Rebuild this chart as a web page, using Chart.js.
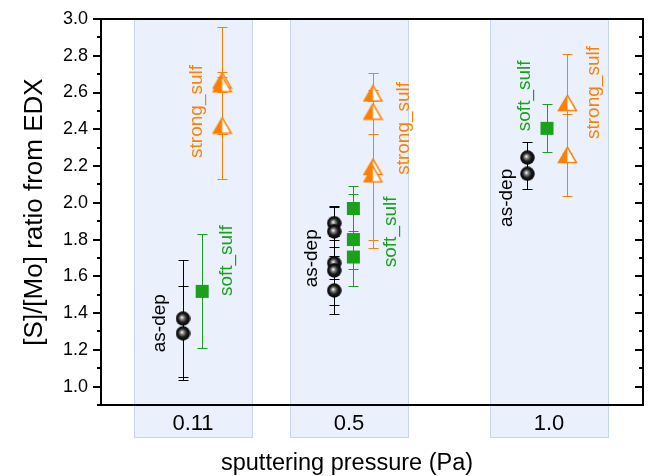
<!DOCTYPE html>
<html>
<head>
<meta charset="utf-8">
<script src="https://cdn.jsdelivr.net/npm/chart.js@4.4.0/dist/chart.umd.min.js"></script>
<style>
  html, body { margin: 0; padding: 0; background: #fff; }
  #wrap { width: 653px; height: 476px; }
</style>
</head>
<body>
<div id="wrap"><canvas id="chart" width="653" height="476"></canvas></div>
<script>
// Sputtering pressures (Pa) and their axis labels
const pressures = [0.11, 0.5, 1.0];
const pressureLabels = ['0.11', '0.5', '1.0'];

// Major y ticks and their labels
const yTickValues = [1.0, 1.2, 1.4, 1.6, 1.8, 2.0, 2.2, 2.4, 2.6, 2.8, 3.0];
const yTickLabels = ['1.0', '1.2', '1.4', '1.6', '1.8', '2.0', '2.2', '2.4', '2.6', '2.8', '3.0'];

const xTitle = 'sputtering pressure (Pa)';
const yTitle = '[S]/[Mo] ratio from EDX';

// as-deposited films
const asDepX   = [0.085, 0.085, 0.463, 0.463, 0.463, 0.463, 0.463, 0.946, 0.946];
const asDepY   = [1.370, 1.290, 1.889, 1.844, 1.672, 1.632, 1.523, 2.246, 2.158];
const asDepErr = [0.320, 0.255, 0.090, 0.136, 0.085, 0.186, 0.126, 0.085, 0.085];

// soft sulfurization
const softX   = [0.133, 0.511, 0.511, 0.511, 0.995];
const softY   = [1.518, 1.969, 1.800, 1.705, 2.405];
const softErr = [0.310, 0.120, 0.250, 0.065, 0.130];

// strong sulfurization
const strongX   = [0.183, 0.183, 0.183, 0.560, 0.560, 0.560, 0.560, 1.046, 1.046];
const strongY   = [2.665, 2.645, 2.420, 2.595, 2.496, 2.195, 2.155, 2.542, 2.260];
const strongErr = [0.290, 0.040, 0.290, 0.110, 0.120, 0.400, 0.400, 0.270, 0.225];

const BLACK = '#000000';
const GREEN = '#1ba01b';
const ORANGE = '#ff8000';
const FONT = '"Liberation Sans", Arial, Helvetica, sans-serif';

// Vertical series captions, anchored in data coordinates
const captions = [
  { text: 'as-dep',      x: 0.027, y: 1.345, color: BLACK },
  { text: 'soft_sulf',   x: 0.194, y: 1.685, color: GREEN },
  { text: 'strong_sulf', x: 0.119, y: 2.497, color: ORANGE },
  { text: 'as-dep',      x: 0.408, y: 1.698, color: BLACK },
  { text: 'soft_sulf',   x: 0.604, y: 1.842, color: GREEN },
  { text: 'strong_sulf', x: 0.637, y: 2.405, color: ORANGE },
  { text: 'as-dep',      x: 0.894, y: 2.027, color: BLACK },
  { text: 'soft_sulf',   x: 0.940, y: 2.582, color: GREEN },
  { text: 'strong_sulf', x: 1.111, y: 2.600, color: ORANGE }
];

// Shaded band half-width around each pressure (in Pa)
const BAND_HALF = 0.147;

function zip(xs, ys) { return xs.map((x, i) => ({ x: x, y: ys[i] })); }

// Glossy black sphere marker
function sphereMarker() {
  const s = 15, c = document.createElement('canvas');
  c.width = s; c.height = s;
  const g = c.getContext('2d');
  const grad = g.createRadialGradient(6.3, 6.3, 0.3, 7.5, 7.5, 7.5);
  grad.addColorStop(0, '#f2f2f2');
  grad.addColorStop(0.22, '#8a8a8a');
  grad.addColorStop(0.55, '#1e1e1e');
  grad.addColorStop(1, '#000');
  g.fillStyle = grad;
  g.beginPath(); g.arc(7.5, 7.5, 7.2, 0, Math.PI * 2); g.fill();
  return c;
}

// Half-filled (left) triangle marker
function halfTriangleMarker(color) {
  const w = 21, h = 18, c = document.createElement('canvas');
  c.width = w; c.height = h;
  const g = c.getContext('2d');
  const ax = 10.5, ay = 1.2, by = 16.5, lx = 1.5, rx = 19.5;
  g.fillStyle = '#fff';
  g.beginPath(); g.moveTo(ax, ay); g.lineTo(rx, by); g.lineTo(lx, by); g.closePath(); g.fill();
  g.fillStyle = color;
  g.beginPath(); g.moveTo(ax, ay); g.lineTo(ax, by); g.lineTo(lx, by); g.closePath(); g.fill();
  g.strokeStyle = color; g.lineWidth = 1.5; g.lineJoin = 'miter';
  g.beginPath(); g.moveTo(ax, ay); g.lineTo(rx, by); g.lineTo(lx, by); g.closePath(); g.stroke();
  return c;
}

const series = [
  { xs: asDepX, ys: asDepY, err: asDepErr, color: BLACK },
  { xs: softX, ys: softY, err: softErr, color: GREEN },
  { xs: strongX, ys: strongY, err: strongErr, color: ORANGE }
];

const bandsPlugin = {
  id: 'bands',
  beforeDraw(chart) {
    const { ctx, chartArea } = chart;
    const xs = chart.scales.x;
    ctx.save();
    pressures.forEach(p => {
      const x1 = Math.round(xs.getPixelForValue(p - BAND_HALF)) + 0.5;
      const x2 = Math.round(xs.getPixelForValue(p + BAND_HALF)) + 0.5;
      const y1 = chartArea.top;
      const y2 = chartArea.bottom + 32.5;
      ctx.fillStyle = '#eaf0fc';
      ctx.fillRect(x1, y1, x2 - x1, y2 - y1);
      ctx.strokeStyle = '#c6d6f0';
      ctx.lineWidth = 1;
      ctx.strokeRect(x1, y1, x2 - x1, y2 - y1);
    });
    ctx.restore();
  }
};

const errorBarsPlugin = {
  id: 'errorBars',
  beforeDatasetsDraw(chart) {
    const { ctx } = chart;
    const xs = chart.scales.x, ys = chart.scales.y;
    ctx.save();
    ctx.lineWidth = 1;
    series.forEach(s => {
      ctx.strokeStyle = s.color;
      s.xs.forEach((xv, i) => {
        const px = Math.round(xs.getPixelForValue(xv)) + 0.5;
        const top = Math.round(ys.getPixelForValue(s.ys[i] + s.err[i])) + 0.5;
        const bot = Math.round(ys.getPixelForValue(s.ys[i] - s.err[i])) + 0.5;
        ctx.beginPath();
        ctx.moveTo(px, top); ctx.lineTo(px, bot);
        ctx.moveTo(px - 5, top); ctx.lineTo(px + 5, top);
        ctx.moveTo(px - 5, bot); ctx.lineTo(px + 5, bot);
        ctx.stroke();
      });
    });
    ctx.restore();
  }
};

const captionsPlugin = {
  id: 'captions',
  afterDatasetsDraw(chart) {
    const { ctx } = chart;
    const xs = chart.scales.x, ys = chart.scales.y;
    ctx.save();
    ctx.font = '19px ' + FONT;
    ctx.textAlign = 'center';
    ctx.textBaseline = 'middle';
    captions.forEach(c => {
      ctx.save();
      ctx.translate(xs.getPixelForValue(c.x), ys.getPixelForValue(c.y));
      ctx.rotate(-Math.PI / 2);
      ctx.fillStyle = c.color;
      ctx.fillText(c.text, 0, 0);
      ctx.restore();
    });
    ctx.restore();
  }
};

const framePlugin = {
  id: 'frame',
  afterDraw(chart) {
    const { ctx, chartArea } = chart;
    const ys = chart.scales.y;
    const L = chartArea.left, R = chartArea.right, T = chartArea.top;
    ctx.save();
    ctx.strokeStyle = '#000';
    ctx.lineWidth = 2;
    ctx.beginPath();
    ctx.moveTo(L - 1, T); ctx.lineTo(R + 1, T);
    ctx.moveTo(R, T); ctx.lineTo(R, chartArea.bottom + 1);
    ctx.stroke();
    // minor ticks on the left (outward), all ticks on the right (inward)
    ctx.beginPath();
    ys.ticks.forEach(t => {
      const yMaj = Math.round(ys.getPixelForValue(t.value));
      ctx.moveTo(R, yMaj); ctx.lineTo(R - 8, yMaj);
      const yMin = Math.round(ys.getPixelForValue(t.value - 0.1));
      ctx.moveTo(L, yMin); ctx.lineTo(L - 4, yMin);
      ctx.moveTo(R, yMin); ctx.lineTo(R - 4, yMin);
    });
    ctx.stroke();
    // x-axis title, set slightly left of the plot centre
    ctx.fillStyle = '#000';
    ctx.font = '23.5px ' + FONT;
    ctx.textAlign = 'center';
    ctx.textBaseline = 'alphabetic';
    ctx.fillText(xTitle, (L + R) / 2 - 25, chart.height - 6);
    ctx.restore();
  }
};

new Chart(document.getElementById('chart'), {
  type: 'scatter',
  data: {
    datasets: [
      {
        label: 'as-dep', data: zip(asDepX, asDepY),
        pointStyle: sphereMarker(), pointRadius: 7.5
      },
      {
        label: 'soft_sulf', data: zip(softX, softY),
        pointStyle: 'rect', pointRadius: 9.2,
        backgroundColor: GREEN, borderColor: GREEN, borderWidth: 0
      },
      {
        label: 'strong_sulf', data: zip(strongX, strongY),
        pointStyle: halfTriangleMarker(ORANGE), pointRadius: 9
      }
    ]
  },
  options: {
    responsive: false,
    animation: false,
    events: [],
    layout: { padding: { top: 19, right: 7, left: 0, bottom: 0 } },
    plugins: { legend: { display: false }, tooltip: { enabled: false } },
    scales: {
      x: {
        type: 'linear', min: -0.12, max: 1.235,
        afterBuildTicks(scale) { scale.ticks = pressures.map(v => ({ value: v })); },
        afterFit(scale) { scale.height = 71; },
        grid: { display: false },
        border: { display: true, color: '#000', width: 2 },
        ticks: {
          color: '#000', padding: -2, maxRotation: 0, autoSkip: false,
          font: { family: FONT, size: 22 },
          callback: (v, i) => pressureLabels[i]
        },
        title: { display: false }
      },
      y: {
        type: 'linear', min: 0.9, max: 3.0,
        afterBuildTicks(scale) { scale.ticks = yTickValues.map(v => ({ value: v })); },
        afterFit(scale) { scale.width = 101; },
        grid: { display: true, drawOnChartArea: false, drawTicks: true, tickLength: 8, color: '#000', lineWidth: 2 },
        border: { display: true, color: '#000', width: 2 },
        ticks: {
          color: '#000', padding: 5, autoSkip: false,
          font: { family: FONT, size: 18 },
          callback: (v, i) => yTickLabels[i]
        },
        title: {
          display: true, text: yTitle, color: '#000',
          font: { family: FONT, size: 26 }, padding: { top: 19, bottom: 0 }
        }
      }
    }
  },
  plugins: [bandsPlugin, errorBarsPlugin, captionsPlugin, framePlugin]
});
</script>
</body>
</html>
